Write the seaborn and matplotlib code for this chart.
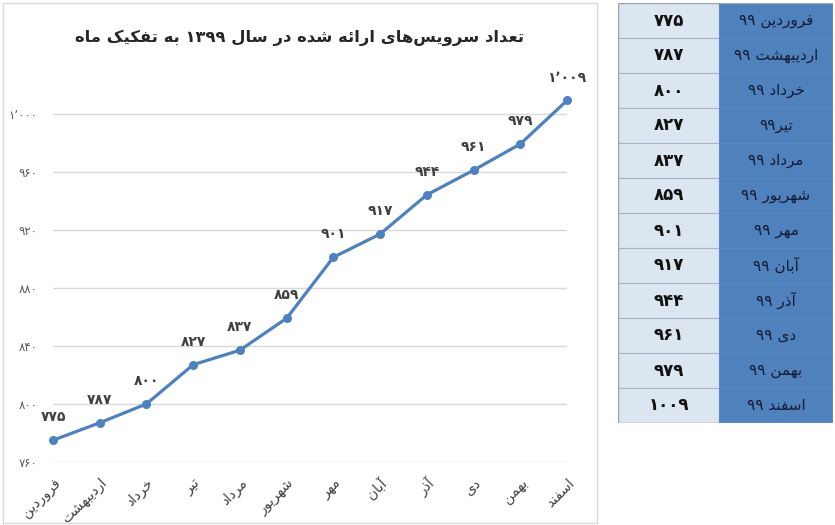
import re
import numpy as np
import pandas as pd
import matplotlib
matplotlib.use('Agg')
import matplotlib.pyplot as plt
import seaborn as sns
from matplotlib.patches import Rectangle

# data
months = ['فروردین', 'اردیبهشت', 'خرداد', 'تیر', 'مرداد', 'شهریور',
          'مهر', 'آبان', 'آذر', 'دی', 'بهمن', 'اسفند']
services = [775, 787, 800, 827, 837, 859, 901, 917, 944, 961, 979, 1009]
table_labels = ['فروردین ۹۹', 'اردیبهشت ۹۹', 'خرداد ۹۹', 'تیر۹۹', 'مرداد ۹۹',
                'شهریور ۹۹', 'مهر ۹۹', 'آبان ۹۹', 'آذر ۹۹', 'دی ۹۹',
                'بهمن ۹۹', 'اسفند ۹۹']
y_ticks = [760, 800, 840, 880, 920, 960, 1000]
title = 'تعداد سرویس‌های ارائه شده در سال ۱۳۹۹ به تفکیک ماه'

# matplotlib has no arabic shaping, so do a small one by hand
# (isolated, final, initial, medial)
FORMS = {
    'ا': ('\uFE8D', '\uFE8E', None, None),
    'آ': ('\uFE81', '\uFE82', None, None),
    'ب': ('\uFE8F', '\uFE90', '\uFE91', '\uFE92'),
    'ت': ('\uFE95', '\uFE96', '\uFE97', '\uFE98'),
    'خ': ('\uFEA5', '\uFEA6', '\uFEA7', '\uFEA8'),
    'د': ('\uFEA9', '\uFEAA', None, None),
    'ذ': ('\uFEAB', '\uFEAC', None, None),
    'ر': ('\uFEAD', '\uFEAE', None, None),
    'س': ('\uFEB1', '\uFEB2', '\uFEB3', '\uFEB4'),
    'ش': ('\uFEB5', '\uFEB6', '\uFEB7', '\uFEB8'),
    'ع': ('\uFEC9', '\uFECA', '\uFECB', '\uFECC'),
    'ف': ('\uFED1', '\uFED2', '\uFED3', '\uFED4'),
    'ل': ('\uFEDD', '\uFEDE', '\uFEDF', '\uFEE0'),
    'م': ('\uFEE1', '\uFEE2', '\uFEE3', '\uFEE4'),
    'ن': ('\uFEE5', '\uFEE6', '\uFEE7', '\uFEE8'),
    'ه': ('\uFEE9', '\uFEEA', '\uFEEB', '\uFEEC'),
    'و': ('\uFEED', '\uFEEE', None, None),
    'ئ': ('\uFE89', '\uFE8A', '\uFE8B', '\uFE8C'),
    'ک': ('\uFB8E', '\uFB8F', '\uFB90', '\uFB91'),
    'ی': ('\uFBFC', '\uFBFD', '\uFBFE', '\uFBFF'),
}


def shape(text):
    out = []
    for i, c in enumerate(text):
        if c not in FORMS:
            if c != '\u200c':
                out.append(c)
            continue
        prev = text[i - 1] if i > 0 else None
        nxt = text[i + 1] if i + 1 < len(text) else None
        join_prev = prev in FORMS and FORMS[prev][2] is not None
        join_next = nxt in FORMS and FORMS[c][2] is not None
        iso, fin, ini, med = FORMS[c]
        if join_prev and join_next:
            out.append(med)
        elif join_prev:
            out.append(fin)
        elif join_next:
            out.append(ini)
        else:
            out.append(iso)
    return ''.join(out)


def fa(text):
    # shape, then lay out right to left, keeping digit runs in order
    s = shape(text)[::-1]
    return re.sub(r'[۰-۹٬]+', lambda m: m.group()[::-1], s)


def fa_num(n, sep=True):
    s = f'{n:,}' if sep else str(n)
    s = s.replace(',', '٬')
    return s.translate(str.maketrans('0123456789', '۰۱۲۳۴۵۶۷۸۹'))


df = pd.DataFrame({'pos': np.arange(len(months)), 'services': services})

sns.set_theme(style='white')
plt.rcParams['font.family'] = ['DejaVu Sans']

W, H = 835, 525
fig = plt.figure(figsize=(W / 100, H / 100), dpi=100)

# chart frame
fig.patches.append(Rectangle((3 / W, 2 / H), 594 / W, 520 / H, transform=fig.transFigure,
                             fill=False, edgecolor='#d9d9d9', linewidth=1))

blue = '#4f81bd'
ax = fig.add_axes([53 / W, 63 / H, 514 / W, 392 / H])
sns.lineplot(data=df, x='pos', y='services', ax=ax, color=blue, linewidth=2.3,
             marker='o', markersize=6.5, markeredgewidth=0, clip_on=False)
ax.set_xlim(0, 11)
ax.set_ylim(760, 1030)
ax.set_yticks(y_ticks)
ax.set_yticklabels([fa_num(v) for v in y_ticks], color='#595959', fontsize=8.5)
ax.set_xticks(df['pos'])
ax.set_xticklabels([fa(m) for m in months], rotation=45, ha='right',
                   rotation_mode='anchor', color='#404040', fontsize=10)
ax.tick_params(axis='y', length=0, pad=11)
ax.tick_params(axis='x', length=0, pad=10)
ax.set_xlabel('')
ax.set_ylabel('')
for s in ax.spines.values():
    s.set_visible(False)
ax.grid(axis='y', color='#d9d9d9', linewidth=1)
ax.set_axisbelow(True)

for x, v in zip(df['pos'], df['services']):
    ax.annotate(fa_num(v), (x, v), xytext=(0, 16.5), textcoords='offset points',
                ha='center', va='center', fontsize=10, fontweight='bold',
                color='#404040', annotation_clip=False)

fig.text(300 / W, 1 - 38 / H, fa(title), ha='center', va='center',
         fontsize=11.8, fontweight='bold', color='#262626')

# side table
tx = fig.add_axes([618 / W, 102 / H, 215 / W, 420 / H])
n = len(months)
tx.set_xlim(0, 215)
tx.set_ylim(n, 0)
tx.axis('off')
split = 101
for i, (lab, v) in enumerate(zip(table_labels, services)):
    tx.add_patch(Rectangle((0, i), split, 1, facecolor='#dce6f1',
                           edgecolor='#a6b4c8', linewidth=0.8))
    tx.add_patch(Rectangle((split, i), 215 - split, 1, facecolor=blue,
                           edgecolor='#5a8ac4', linewidth=0.8))
    tx.text(split / 2, i + 0.5, fa_num(v, sep=False), ha='center', va='center',
            fontsize=12, fontweight='bold', color='#111111')
    tx.text(split + (215 - split) / 2, i + 0.5, fa(lab), ha='center',
            va='center', fontsize=11, color='#141a33')
tx.add_patch(Rectangle((0, 0), 215, n, fill=False, edgecolor='#9aa6b8', linewidth=1))

fig.savefig('out.png', dpi=100)
